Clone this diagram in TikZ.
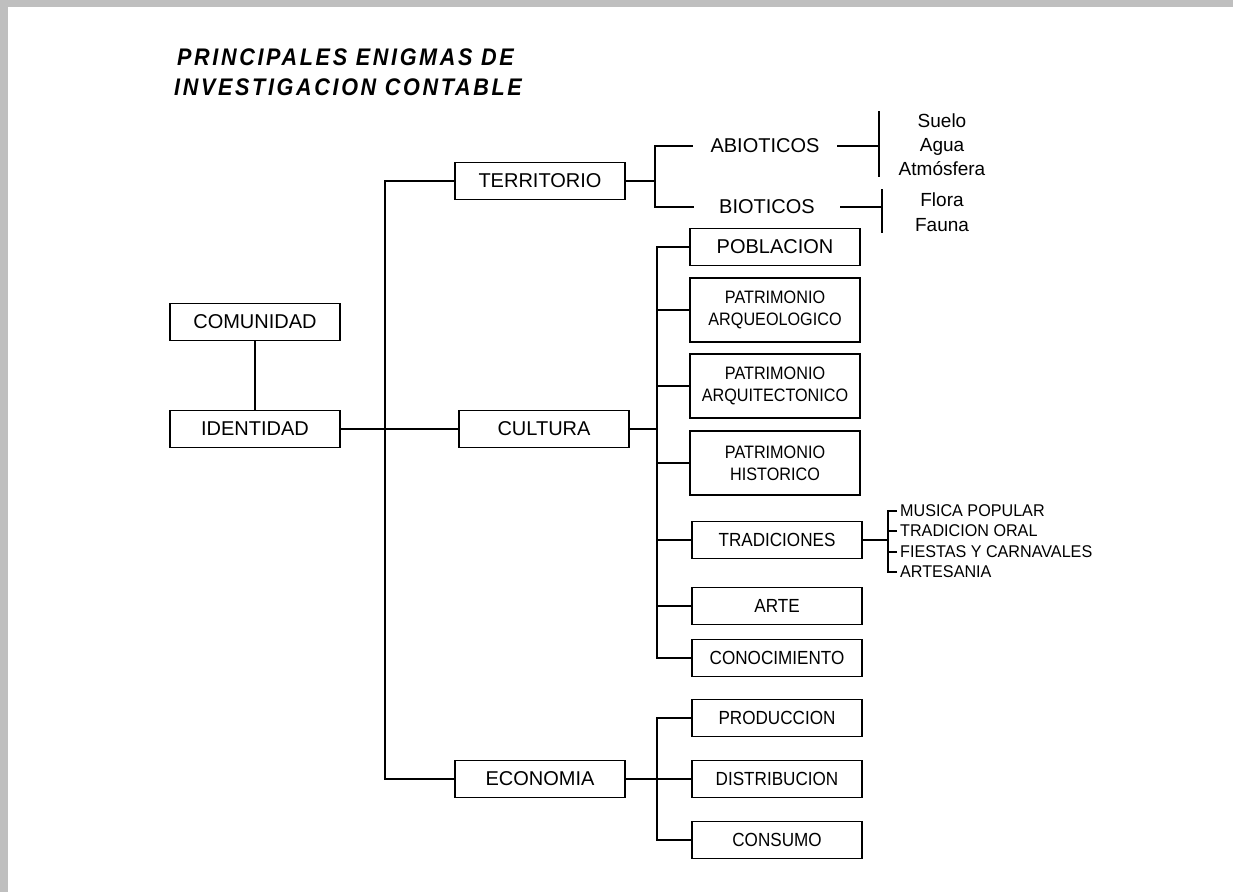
\documentclass[tikz,border=0pt]{standalone}
\usepackage{fontspec}
\setmainfont{Liberation Sans}
\newfontfamily\titlefont{Liberation Sans}[LetterSpace=11,FakeStretch=0.9]
\newfontfamily\boxfont{Liberation Sans}[FakeStretch=0.9]
\newfontfamily\listfont{Liberation Sans}[FakeStretch=0.95]
\usetikzlibrary{positioning}

\tikzset{
    main box/.style={draw,line width=1.1pt,minimum width=170pt,minimum height=37pt,font=\fontsize{20}{22}\selectfont},
    sub box/.style={draw,line width=1.1pt,minimum width=170pt,minimum height=37pt,align=center,font=\boxfont\fontsize{19}{22}\selectfont},
    tall box/.style={sub box,minimum height=64pt,font=\boxfont\fontsize{18}{22}\selectfont},
    branch text/.style={inner xsep=0pt,font=\fontsize{20}{22}\selectfont},
    leaf text/.style={inner sep=0pt,anchor=base,font=\fontsize{19}{21}\selectfont},
    small text/.style={inner sep=0pt,anchor=west,font=\listfont\fontsize{17}{19}\selectfont},
    title text/.style={inner sep=0pt,anchor=base west,font=\titlefont\bfseries\itshape\fontsize{24}{30}\selectfont},
    link/.style={line width=1.1pt}
}

\begin{document}
\begin{tikzpicture}[x=1pt,y=-1pt]
    \useasboundingbox (0,0) rectangle (1233,892);
    % page frame
    \fill[gray!50] (0,0) rectangle (1233,7);
    \fill[gray!50] (0,0) rectangle (8,892);

    % title
    \node[title text] (title1) at (177,65) {PRINCIPALES ENIGMAS DE};
    \node[title text] (title2) at (174,95) {INVESTIGACION CONTABLE};

    % left side
    \node[main box] (comunidad) at (255,322) {COMUNIDAD};
    \node[main box] (identidad) at (255,429) {IDENTIDAD};

    % second level
    \node[main box] (territorio) at (540,181) {TERRITORIO};
    \node[main box] (cultura) at (544,429) {CULTURA};
    \node[main box] (economia) at (540,779) {ECONOMIA};

    % territorio branch
    \node[branch text,minimum width=144pt] (abioticos) at (765,146) {ABIOTICOS};
    \node[branch text,minimum width=146pt] (bioticos) at (767,207) {BIOTICOS};
    \node[leaf text] (suelo) at (942,127) {Suelo};
    \node[leaf text] (agua) at (942,151) {Agua};
    \node[leaf text] (atmosfera) at (942,175) {Atmósfera};
    \node[leaf text] (flora) at (942,206) {Flora};
    \node[leaf text] (fauna) at (942,231) {Fauna};

    % cultura branch
    \node[main box] (poblacion) at (775,247) {POBLACION};
    \node[tall box] (arqueologico) at (775,310) {PATRIMONIO\\ARQUEOLOGICO};
    \node[tall box] (arquitectonico) at (775,386) {PATRIMONIO\\ARQUITECTONICO};
    \node[tall box] (historico) at (775,463) {PATRIMONIO\\HISTORICO};
    \node[sub box] (tradiciones) at (777,540) {TRADICIONES};
    \node[sub box] (arte) at (777,606) {ARTE};
    \node[sub box] (conocimiento) at (777,658) {CONOCIMIENTO};

    \node[small text] (musica) at (900,511) {MUSICA POPULAR};
    \node[small text] (oral) at (900,531) {TRADICION ORAL};
    \node[small text] (fiestas) at (900,552) {FIESTAS Y CARNAVALES};
    \node[small text] (artesania) at (900,572) {ARTESANIA};

    % economia branch
    \node[sub box] (produccion) at (777,718) {PRODUCCION};
    \node[sub box] (distribucion) at (777,779) {DISTRIBUCION};
    \node[sub box] (consumo) at (777,840) {CONSUMO};

    % forks
    \coordinate (trunk) at (385,429);
    \coordinate (tfork) at (655,181);
    \coordinate (cfork) at (657,429);
    \coordinate (efork) at (657,779);
    \coordinate (abar) at (879,146);
    \coordinate (bbar) at (882,207);
    \coordinate (trfork) at (888,540);

    \draw[link] (comunidad) -- (identidad);
    \draw[link] (identidad) -- (cultura);
    \draw[link] (territorio.west) -| (trunk) |- (economia.west);

    \draw[link] (territorio.east) -- (tfork);
    \draw[link] (abioticos.west) -| (tfork) |- (bioticos.west);
    \draw[link] (abioticos.east) -- (abar);
    \draw[link] (bioticos.east) -- (bbar);
    \draw[link] (879,111) -- (879,177);
    \draw[link] (882,189) -- (882,233);

    \draw[link] (cultura.east) -- (cfork);
    \draw[link] (poblacion.west) -| (cfork) |- (conocimiento.west);
    \foreach \n in {arqueologico,arquitectonico,historico,tradiciones,arte}
        \draw[link] (\n.west) -- (\n.west -| cfork);

    \draw[link] (tradiciones.east) -- (trfork);
    \foreach \n in {musica,oral,fiestas,artesania}
        \draw[link] ([xshift=-3pt]\n.west) -| (trfork);

    \draw[link] (economia.east) -- (distribucion.west);
    \draw[link] (produccion.west) -| (efork) |- (consumo.west);
\end{tikzpicture}
\end{document}
